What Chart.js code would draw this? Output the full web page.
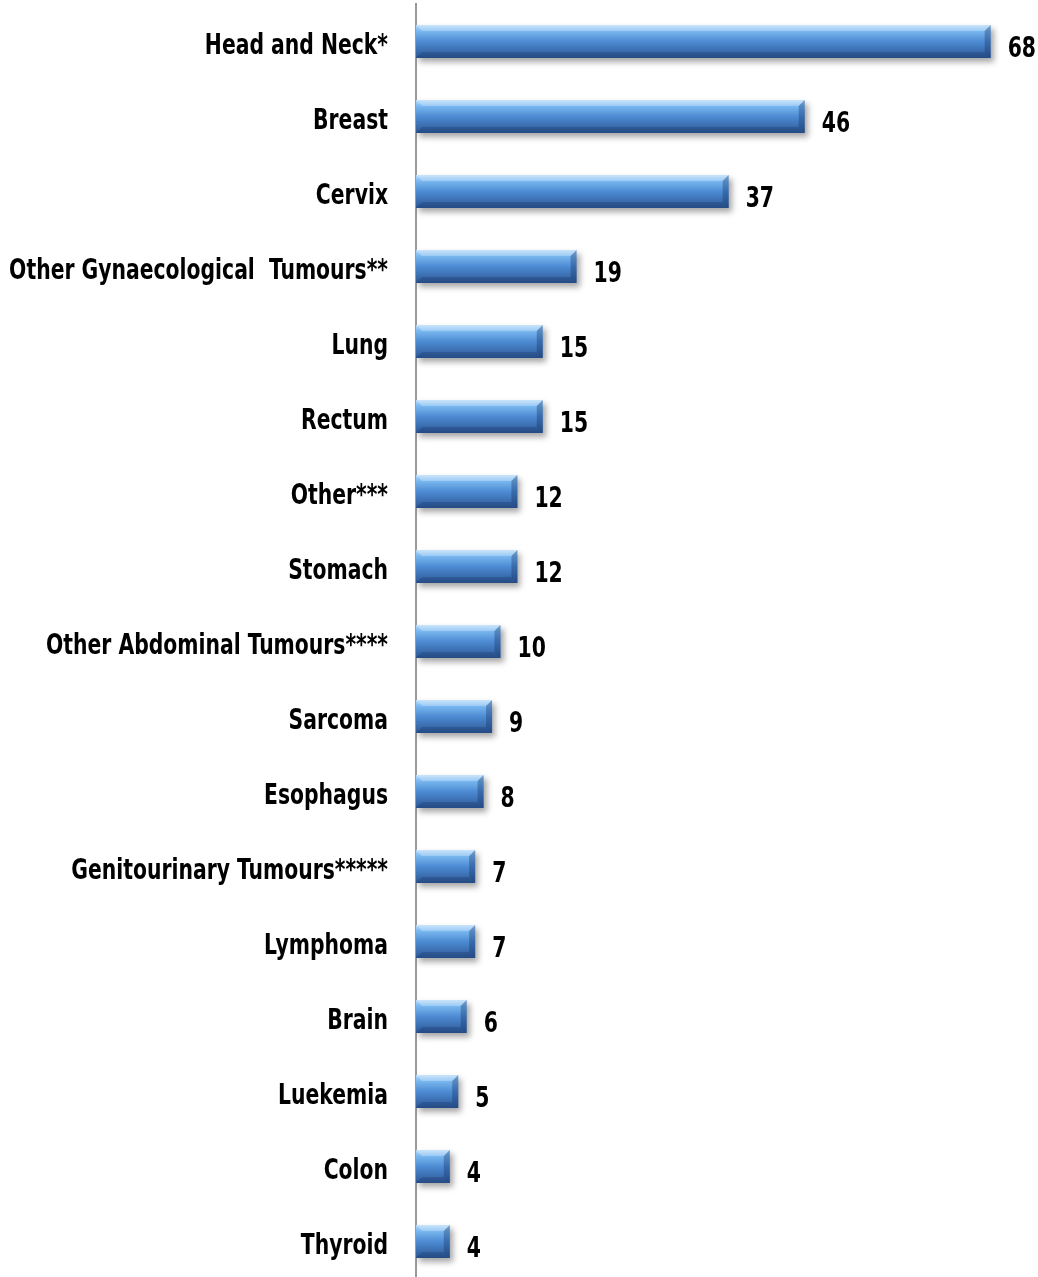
<!DOCTYPE html>
<html>
<head>
<meta charset="utf-8">
<script src="https://cdn.jsdelivr.net/npm/chart.js@4.4.1/dist/chart.umd.min.js"></script>
<style>
html, body { margin: 0; padding: 0; background: #fff; overflow: hidden; }
#wrap { position: relative; width: 1038px; height: 1279px; }
</style>
</head>
<body>
<div id="wrap"><canvas id="chart"></canvas></div>
<script>
const categories = [
    "Head and Neck*", "Breast", "Cervix", "Other Gynaecological  Tumours**",
    "Lung", "Rectum", "Other***", "Stomach", "Other Abdominal Tumours****",
    "Sarcoma", "Esophagus", "Genitourinary Tumours*****", "Lymphoma",
    "Brain", "Luekemia", "Colon", "Thyroid"
];
const counts = [68, 46, 37, 19, 15, 15, 12, 12, 10, 9, 8, 7, 7, 6, 5, 4, 4];

const FONT = "'DejaVu Sans Condensed', 'Liberation Sans Narrow', sans-serif";
const TEXT_FONT = "bold 29px " + FONT;
const SQUEEZE = 0.78;   // reference text is tall and narrow (Calibri-like)

// squeezed bold text, baseline a bit under the given centre
function drawText(ctx, txt, x, y, align) {
    ctx.save();
    ctx.translate(x, y);
    ctx.scale(SQUEEZE, 1);
    ctx.fillStyle = "#000";
    ctx.font = TEXT_FONT;
    ctx.textAlign = align;
    ctx.textBaseline = "alphabetic";
    ctx.fillText(txt, 0, 12.5);
    ctx.restore();
}

// gradient fill + shadow for the bars, like the old 3D office look
const barLook = {
    id: "barLook",
    beforeDatasetsDraw(chart) {
        const ctx = chart.ctx;
        chart.getDatasetMeta(0).data.forEach(bar => {
            const top = bar.y - bar.height / 2;
            const g = ctx.createLinearGradient(0, top, 0, top + bar.height);
            g.addColorStop(0, "#b8dcfa");
            g.addColorStop(0.18, "#7ab8f0");
            g.addColorStop(0.5, "#4d8bd3");
            g.addColorStop(0.85, "#3767a8");
            g.addColorStop(1, "#2b5691");
            bar.options = Object.assign({}, bar.options, { backgroundColor: g });
        });
        ctx.save();
        ctx.shadowColor = "rgba(0,0,0,0.35)";
        ctx.shadowOffsetX = 3;
        ctx.shadowOffsetY = 4;
        ctx.shadowBlur = 6;
    },
    afterDatasetsDraw(chart) {
        const ctx = chart.ctx;
        ctx.restore();
        ctx.save();
        chart.getDatasetMeta(0).data.forEach((bar, i) => {
            const top = bar.y - bar.height / 2;
            const bot = bar.y + bar.height / 2;
            const right = bar.x;
            const b = 6;
            // top-left light bevel
            ctx.fillStyle = "rgba(255,255,255,0.25)";
            ctx.beginPath();
            ctx.moveTo(bar.base, top);
            ctx.lineTo(right, top);
            ctx.lineTo(right - b, top + b);
            ctx.lineTo(bar.base + b, top + b);
            ctx.closePath();
            ctx.fill();
            // right bevel
            ctx.fillStyle = "rgba(20,50,100,0.35)";
            ctx.beginPath();
            ctx.moveTo(right, top);
            ctx.lineTo(right, bot);
            ctx.lineTo(right - b, bot - b);
            ctx.lineTo(right - b, top + b);
            ctx.closePath();
            ctx.fill();
            // bottom bevel
            ctx.fillStyle = "rgba(20,45,90,0.25)";
            ctx.beginPath();
            ctx.moveTo(bar.base, bot);
            ctx.lineTo(right, bot);
            ctx.lineTo(right - b, bot - b);
            ctx.lineTo(bar.base + b, bot - b);
            ctx.closePath();
            ctx.fill();
            // value label
            drawText(ctx, String(counts[i]), right + 17, bar.y + 3, "left");
        });
        ctx.restore();
    },
    afterDraw(chart) {
        // category labels, placed on the y scale's tick positions
        const yScale = chart.scales.y;
        categories.forEach((label, i) => {
            drawText(chart.ctx, label, yScale.right - 28, yScale.getPixelForTick(i), "right");
        });
    }
};

new Chart(
    document.getElementById("chart"),
    {
        type: "bar",

        data: {
            labels: categories,
            datasets: [{
                data: counts,
                backgroundColor: "#4d8bd3",
                borderWidth: 0,
                barPercentage: 0.44,
                categoryPercentage: 1
            }]
        },

        options: {
            indexAxis: "y",
            responsive: true,
            maintainAspectRatio: false,
            animation: false,
            layout: { padding: { top: 4, right: 0, bottom: 0, left: 0 } },
            plugins: {
                legend: { display: false },
                tooltip: { enabled: false }
            },
            scales: {
                x: {
                    display: false,
                    min: 0,
                    max: 73.6
                },
                y: {
                    grid: { display: false, drawTicks: false },
                    border: { display: true, color: "#9a9a9a", width: 2 },
                    ticks: { display: false },
                    afterFit(scale) {
                        scale.width = 416;
                        scale.paddingTop = 0;
                        scale.paddingBottom = 0;
                    }
                }
            }
        },

        plugins: [barLook]
    }
);
</script>
</body>
</html>
